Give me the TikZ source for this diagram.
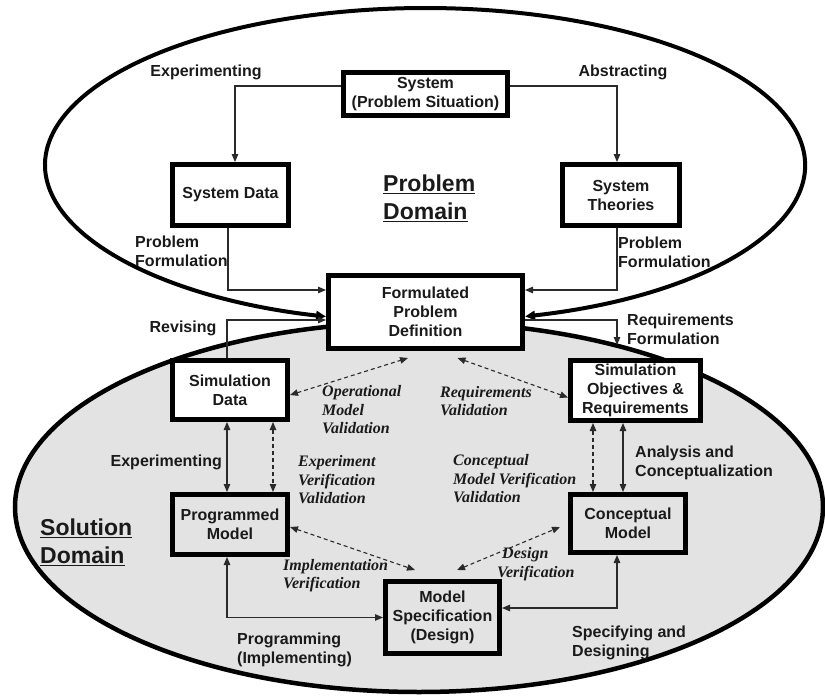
\documentclass[tikz,border=0pt]{standalone}
\usepackage{fontspec}
\setmainfont{Liberation Sans}
\newfontfamily\tnr{Liberation Serif}
\usetikzlibrary{arrows.meta,calc}

\definecolor{soln}{HTML}{E3E3E3}
\definecolor{lnk}{HTML}{2A2A2A}
\definecolor{txt}{HTML}{1A1A1A}

\tikzset{
  box/.style={draw=black, line width=5pt, fill=white, align=center, inner sep=0pt,
              text=txt, font=\bfseries\fontsize{16}{19}\selectfont},
  graybox/.style={box, fill=soln},
  lbl/.style={inner sep=0pt, align=left, text=txt, font=\bfseries\fontsize{16}{19}\selectfont},
  ital/.style={lbl, font=\tnr\bfseries\itshape\fontsize{16}{18.5}\selectfont},
  title/.style={lbl, font=\bfseries\fontsize{23}{28}\selectfont},
  link/.style={line width=1.1pt, draw=lnk, -{Triangle[length=8pt,width=6.5pt]}},
  twoway/.style={line width=1.1pt, draw=lnk,
                 {Triangle[length=8pt,width=6.5pt]}-{Triangle[length=8pt,width=6.5pt]}},
  check/.style={twoway, dash pattern=on 4pt off 3pt},
  boundary/.style={line width=4pt, draw=black},
}

\begin{document}
\begin{tikzpicture}[x=1pt, y=-1pt]
\useasboundingbox (0,0) rectangle (825,696);

% solution domain
\filldraw[fill=soln, line width=4.5pt] (419,507) ellipse [x radius=404, y radius=185];

% boxes
\node[box, minimum width=164pt, minimum height=43pt] (sys) at (425.5,94) {System\\(Problem Situation)};
\node[box, minimum width=116pt, minimum height=61pt] (sdata) at (230.5,195) {System Data};
\node[box, minimum width=117pt, minimum height=61pt] (stheo) at (621,195) {System\\Theories};
\node[box, minimum width=194pt, minimum height=73pt] (fpd) at (425.5,312) {Formulated\\Problem\\Definition};
\node[box, minimum width=115pt, minimum height=59pt] (simdata) at (230,390) {Simulation\\Data};
\node[box, minimum width=130pt, minimum height=60pt] (simobj) at (635.5,390.5) {Simulation\\Objectives \&\\Requirements};
\node[graybox, minimum width=115pt, minimum height=60pt] (prog) at (230,524.5) {Programmed\\Model};
\node[graybox, minimum width=115pt, minimum height=58pt] (concept) at (628,523.5) {Conceptual\\Model};
\node[graybox, minimum width=114pt, minimum height=72pt] (spec) at (442.5,617.5) {Model\\Specification\\(Design)};

% problem domain boundary, closing on the formulated problem definition
\draw[boundary, {Triangle[length=10pt,width=9pt]}-{Triangle[length=10pt,width=9pt]}]
  ([yshift=-4.5pt]fpd.east) arc[start angle=74.75, end angle=-254.9, x radius=380, y radius=157];

% problem domain connectors
\draw[link] ([yshift=8pt]sys.west) -| ([xshift=4.5pt]sdata.north);
\draw[link] ([yshift=8pt]sys.east) -| ([xshift=-4pt]stheo.north);
\draw[link] ([xshift=-2.5pt]sdata.south) |- ([yshift=22pt]fpd.west);
\draw[link] ([xshift=-4pt]stheo.south) |- ([yshift=22pt]fpd.east);
\draw[link] ([xshift=-3pt]simdata.north) |- ([yshift=-8pt]fpd.west);
\coordinate (rfend) at (617,345);
\draw[link] ([yshift=-8pt]fpd.east) -| (rfend);

% solution domain connectors
\draw[twoway] ([xshift=-3pt]simdata.south) -- ([xshift=-3pt]prog.north);
\draw[check] ([xshift=43pt]simdata.south) -- ([xshift=43pt]prog.north);
\draw[check] ([xshift=25pt]simobj.south west) -- ([xshift=25pt]concept.north west);
\draw[twoway] ([xshift=55pt]simobj.south west) -- ([xshift=55pt]concept.north west);
\draw[check] ([yshift=-5pt]simdata.east) -- ([xshift=-17.5pt,yshift=-7pt]fpd.south);
\draw[check] ([xshift=32pt,yshift=-7pt]fpd.south) -- ([yshift=-7pt]simobj.west);
\draw[check] ([yshift=-2.5pt]prog.east) -- ([xshift=-27.5pt,yshift=9pt]spec.north);
\draw[check] ([xshift=14.5pt,yshift=9pt]spec.north) -- ([xshift=-8pt,yshift=-3.5pt]concept.west);
\draw[twoway] ([xshift=-3pt]prog.south) |- (spec.west);
\draw[twoway] ([xshift=-11pt]concept.south) |- ([yshift=9.5pt]spec.east);

% domain titles
\node[title, anchor=west] (ptitle) at (383,198.5) {\underline{Problem}\\\underline{Domain}};
\node[title, anchor=west] (stitle) at (40,542) {\underline{Solution}\\\underline{Domain}};

% activity labels
\node[lbl] (l1) at (206,72) {Experimenting};
\node[lbl] (l2) at (623,72) {Abstracting};
\node[lbl, anchor=west] (l3) at (135,251.5) {Problem\\Formulation};
\node[lbl, anchor=west] (l4) at (618,252.5) {Problem\\Formulation};
\node[lbl] (l5) at (183,328) {Revising};
\node[lbl, anchor=west] (l6) at (627,329.5) {Requirements\\Formulation};
\node[lbl, anchor=east] (l7) at (222,462) {Experimenting};
\node[lbl, anchor=west] (l8) at (635,462.5) {Analysis and\\Conceptualization};
\node[lbl, anchor=west] (l9) at (237,649.5) {Programming\\(Implementing)};
\node[lbl, anchor=west] (l10) at (572,642.5) {Specifying and\\Designing};

% verification and validation labels
\node[ital, anchor=west] (v1) at (322,410) {Operational\\Model\\Validation};
\node[ital, anchor=west] (v2) at (440,401) {Requirements\\Validation};
\node[ital, anchor=west] (v3) at (298,480) {Experiment\\Verification\\Validation};
\node[ital, anchor=west] (v4) at (453,479) {Conceptual\\Model Verification\\Validation};
\node[ital, anchor=west] (v5) at (283,575.5) {Implementation\\Verification};
\node[ital, anchor=west] (v6) at (497,564) {\hspace*{5pt}Design\\Verification};
\end{tikzpicture}
\end{document}
